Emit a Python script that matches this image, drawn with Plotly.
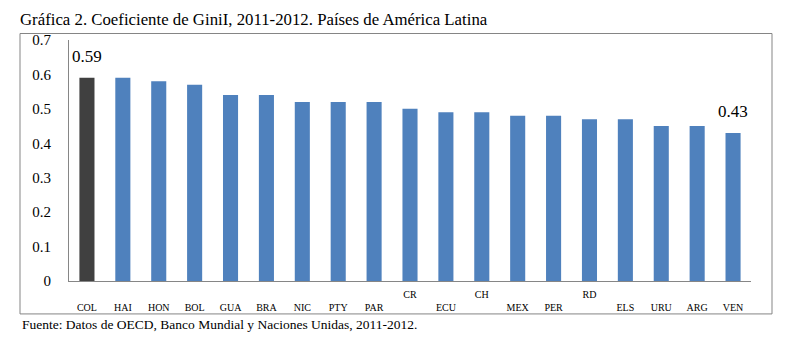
import plotly.graph_objects as go

paises = ["COL", "HAI", "HON", "BOL", "GUA", "BRA", "NIC", "PTY", "PAR", "CR",
          "ECU", "CH", "MEX", "PER", "RD", "ELS", "URU", "ARG", "VEN"]
gini = [0.59, 0.59, 0.58, 0.57, 0.54, 0.54, 0.52, 0.52, 0.52, 0.50,
        0.49, 0.49, 0.48, 0.48, 0.47, 0.47, 0.45, 0.45, 0.43]
fila_alta = ["CR", "CH", "RD"]
etiquetas = ["COL", "VEN"]
y_ticks = [0, 0.1, 0.2, 0.3, 0.4, 0.5, 0.6, 0.7]

W, H = 786, 348
L, R, T, B = 69, 35, 39.5, 67
pw, ph = W - L - R, H - T - B
SERIF = "Liberation Serif, Times New Roman, serif"

colores = ["#404040" if p == "COL" else "#4F81BD" for p in paises]
ticktext = [p if p in fila_alta else "<br>" + p for p in paises]

fig = go.Figure(go.Bar(x=paises, y=gini, marker_color=colores, marker_line_width=0,
                       hoverinfo="skip"))

for p, v in zip(paises, gini):
    if p in etiquetas:
        fig.add_annotation(x=p, y=v, text=f"{v:.2f}", showarrow=False,
                           yanchor="bottom", yshift=10,
                           font=dict(family=SERIF, size=17, color="black"))

def px2x(px):
    return (px - L) / pw

def py2y(py):
    return (H - B - py) / ph

fig.add_shape(type="rect", xref="paper", yref="paper",
              x0=px2x(20), x1=px2x(772), y0=py2y(314), y1=py2y(33),
              line=dict(color="#858585", width=1), fillcolor="rgba(0,0,0,0)", layer="below")

fig.add_annotation(xref="paper", yref="paper", x=px2x(20), y=py2y(325),
                   xanchor="left", yanchor="middle", showarrow=False,
                   text="Fuente: Datos de OECD, Banco Mundial y Naciones Unidas, 2011-2012.",
                   font=dict(family=SERIF, size=13.5, color="black"))

fig.update_layout(
    width=W, height=H,
    margin=dict(l=L, r=R, t=T, b=B, autoexpand=False),
    paper_bgcolor="white", plot_bgcolor="white",
    bargap=0.58,
    showlegend=False,
    title=dict(text="Gráfica 2. Coeficiente de GiniI, 2011-2012. Países de América Latina",
               x=20 / W, xanchor="left", xref="container",
               y=1 - 19 / H, yanchor="middle", yref="container",
               font=dict(family=SERIF, size=16.8, color="black")),
    font=dict(family=SERIF, color="black"),
)
fig.update_xaxes(tickvals=paises, ticktext=ticktext,
                 tickfont=dict(family=SERIF, size=10, color="black"),
                 showline=True, linecolor="#868686", linewidth=1,
                 ticks="", showgrid=False, ticklabelstandoff=4)
fig.update_yaxes(range=[0, 0.7], tickvals=y_ticks,
                 tickfont=dict(family=SERIF, size=15, color="black"),
                 showline=True, linecolor="#868686", linewidth=1,
                 ticks="", showgrid=False, zeroline=False, ticklabelstandoff=14)

fig.write_html("out.html", config={"displayModeBar": False},
               post_script="document.body.style.margin='0px';")
